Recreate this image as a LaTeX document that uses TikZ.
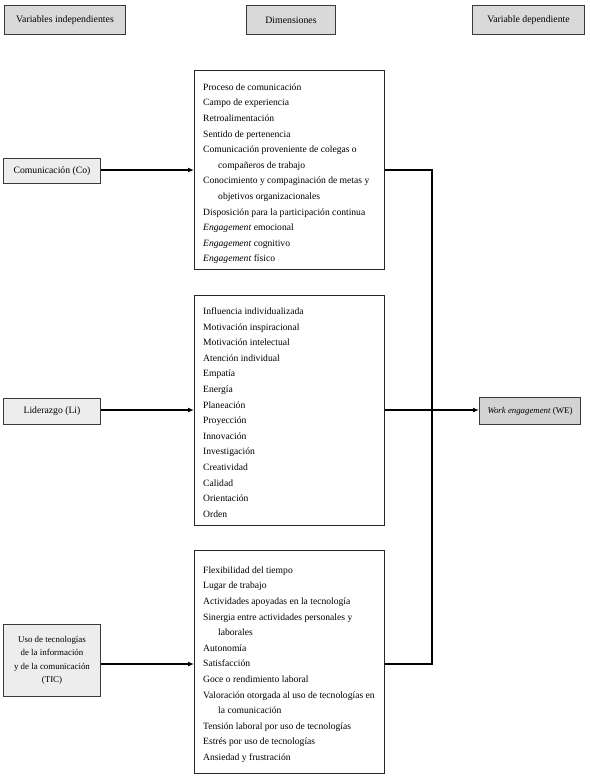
\documentclass[tikz,border=0pt]{standalone}
\usepackage{fontspec}
\setmainfont{Liberation Serif}
\usetikzlibrary{arrows.meta}
\definecolor{hdrfill}{HTML}{D9D9D9}
\definecolor{varfill}{HTML}{EDEDED}
\definecolor{wefill}{HTML}{D3D3D3}
\definecolor{edge}{HTML}{3A3A3A}
\tikzset{
  hdr/.style={draw=edge, line width=1pt, fill=hdrfill, anchor=north west, inner sep=0pt, font=\fontsize{9.8}{11}\selectfont},
  varbox/.style={draw=edge, line width=1pt, fill=varfill, anchor=north west, inner sep=0pt, align=center, font=\fontsize{8.9}{13.5}\selectfont},
  dimbox/.style={draw=black!85, line width=0.9pt, anchor=north west, inner sep=0pt},
  dimtext/.style={anchor=north west, inner sep=0pt, align=left, font=\fontsize{9.6}{15.6}\selectfont},
  webox/.style={draw=edge, line width=1pt, fill=wefill, anchor=north west, inner sep=0pt, font=\fontsize{8.8}{10}\selectfont},
  conn/.style={line width=1.6pt, black},
  arr/.style={conn, -{Latex[length=6pt,width=5pt]}},
}
\newcommand{\ind}{\hspace*{15pt}}
\begin{document}
\begin{tikzpicture}[x=1pt,y=-1pt]
\useasboundingbox (0,0) rectangle (589,778);
% headers
\node[hdr, minimum width=121, minimum height=29] (h1) at (4,5) {Variables independientes};
\node[hdr, minimum width=89, minimum height=29] (h2) at (246,5) {Dimensiones};
\node[hdr, minimum width=112, minimum height=29] (h3) at (472,5) {Variable dependiente};
% independent variables
\node[varbox, minimum width=97, minimum height=25, font=\fontsize{9.7}{11}\selectfont] (co) at (3,158) {Comunicación (Co)};
\node[varbox, minimum width=97, minimum height=26, font=\fontsize{9.7}{11}\selectfont] (li) at (3,397.5) {Liderazgo (Li)};
\node[varbox, minimum width=97, minimum height=72] (tic) at (3,624) {Uso de tecnologías\\de la información\\y de la comunicación\\(TIC)};
% dimension boxes
\node[dimbox, minimum width=190, minimum height=199] (d1) at (194,70) {};
\node[dimtext] (t1) at (203,83.5) {Proceso de comunicación\\Campo de experiencia\\Retroalimentación\\Sentido de pertenencia\\Comunicación proveniente de colegas o\\\ind compañeros de trabajo\\Conocimiento y compaginación de metas y\\\ind objetivos organizacionales\\Disposición para la participación continua\\\textit{Engagement} emocional\\\textit{Engagement} cognitivo\\\textit{Engagement} físico};
\node[dimbox, minimum width=190, minimum height=230] (d2) at (194,295) {};
\node[dimtext] (t2) at (203,307.5) {Influencia individualizada\\Motivación inspiracional\\Motivación intelectual\\Atención individual\\Empatía\\Energía\\Planeación\\Proyección\\Innovación\\Investigación\\Creatividad\\Calidad\\Orientación\\Orden};
\node[dimbox, minimum width=190, minimum height=223] (d3) at (194,550) {};
\node[dimtext] (t3) at (203,566.5) {Flexibilidad del tiempo\\Lugar de trabajo\\Actividades apoyadas en la tecnología\\Sinergia entre actividades personales y\\\ind laborales\\Autonomía\\Satisfacción\\Goce o rendimiento laboral\\Valoración otorgada al uso de tecnologías en\\\ind la comunicación\\Tensión laboral por uso de tecnologías\\Estrés por uso de tecnologías\\Ansiedad y frustración};
% dependent variable
\node[webox, minimum width=101, minimum height=27] (we) at (479,397) {\textit{Work engagement} (WE)};
% connectors
\coordinate (j1) at (432,170);
\coordinate (j2) at (432,410);
\coordinate (j3) at (432,664);
\draw[arr] (co.east |- j1) -- (d1.west |- j1);
\draw[arr] (li.east |- j2) -- (d2.west |- j2);
\draw[arr] (tic.east |- j3) -- (d3.west |- j3);
\draw[conn] (d1.east |- j1) -- (j1) -- (j3) -- (d3.east |- j3);
\draw[arr] (d2.east |- j2) -- (we.west |- j2);
\end{tikzpicture}
\end{document}
